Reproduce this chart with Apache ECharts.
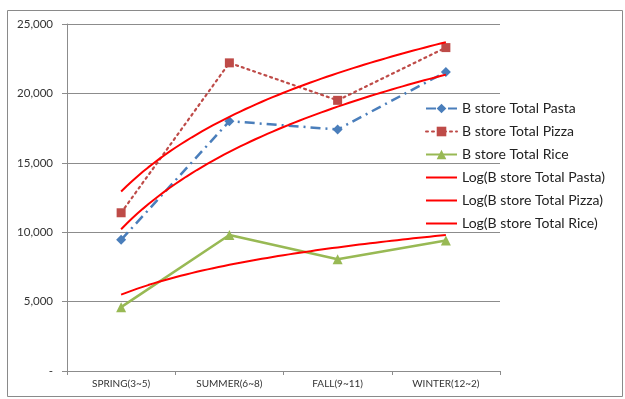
<!DOCTYPE html>
<html>
<head>
<meta charset="utf-8">
<script src="https://cdn.jsdelivr.net/npm/echarts@6/dist/echarts.min.js"></script>
<style>
  html, body { margin: 0; padding: 0; background: #fff; }
  #chart { width: 625px; height: 399px; }
</style>
</head>
<body>
<div id="chart"></div>
<script>
// Seasonal sales, B store
const seasons = ['SPRING(3~5)', 'SUMMER(6~8)', 'FALL(9~11)', 'WINTER(12~2)'];
const pasta = [9450, 18000, 17400, 21550];
const pizza = [11400, 22200, 19500, 23300];
const rice = [4600, 9800, 8050, 9400];
const yTicks = [0, 5000, 10000, 15000, 20000, 25000];

// Logarithmic least-squares fit y = a + b*ln(x), x = 1..n
function logFit(values) {
  const n = values.length;
  const lx = values.map((_, i) => Math.log(i + 1));
  const mx = lx.reduce((s, v) => s + v, 0) / n;
  const my = values.reduce((s, v) => s + v, 0) / n;
  let sxy = 0, sxx = 0;
  for (let i = 0; i < n; i++) {
    sxy += (lx[i] - mx) * (values[i] - my);
    sxx += (lx[i] - mx) * (lx[i] - mx);
  }
  const b = sxy / sxx;
  const a = my - b * mx;
  const pts = [];
  for (let x = 1; x <= n + 1e-9; x += 0.05) {
    pts.push([x, a + b * Math.log(x)]);
  }
  return pts;
}

const font = 'Lato, "Liberation Sans", sans-serif';
const gridColor = '#8c8c8c';

const chart = echarts.init(document.getElementById('chart'));
chart.setOption({
  animation: false,
  backgroundColor: '#fff',
  grid: { left: 67, right: 125, top: 24, bottom: 28 },
  graphic: [{
    type: 'rect',
    shape: { x: 7.5, y: 10.5, width: 615, height: 386 },
    style: { fill: 'none', stroke: '#8a8a8a', lineWidth: 1 },
    silent: true,
    z: -1
  }],
  legend: {
    orient: 'vertical',
    left: 420,
    top: 95,
    itemWidth: 31,
    itemHeight: 12,
    itemGap: 6,
    textStyle: { fontFamily: font, fontSize: 14, lineHeight: 17, color: '#222' },
    data: [
      'B store Total Pasta', 'B store Total Pizza', 'B store Total Rice',
      { name: 'Log(B store Total Pasta)', itemStyle: { opacity: 0 } },
      { name: 'Log(B store Total Pizza)', itemStyle: { opacity: 0 } },
      { name: 'Log(B store Total Rice)', itemStyle: { opacity: 0 } }
    ]
  },
  xAxis: [{
    type: 'category',
    data: seasons,
    boundaryGap: true,
    axisLine: { lineStyle: { color: gridColor } },
    axisTick: { show: true, length: 4, lineStyle: { color: gridColor } },
    axisLabel: { fontFamily: font, fontSize: 10, color: '#333', margin: 8 }
  }, {
    type: 'value',
    min: 0.5,
    max: 4.5,
    show: false
  }],
  yAxis: {
    type: 'value',
    min: 0,
    max: 25000,
    interval: 5000,
    axisLine: { show: true, lineStyle: { color: gridColor } },
    axisTick: { show: true, length: 5, lineStyle: { color: gridColor } },
    splitLine: { lineStyle: { color: gridColor, width: 1 } },
    axisLabel: {
      fontFamily: font, fontSize: 11.5, color: '#333', margin: 14,
      formatter: v => v === 0 ? '-' : v.toLocaleString('en-US')
    }
  },
  series: [
    {
      name: 'B store Total Pasta',
      type: 'line',
      data: pasta,
      symbol: 'diamond',
      symbolSize: 10,
      color: '#4a7ebb',
      lineStyle: { width: 2.5, type: [10, 5, 2, 5], color: '#4a7ebb' },
      itemStyle: { color: '#4a7ebb' },
      z: 3
    },
    {
      name: 'B store Total Pizza',
      type: 'line',
      data: pizza,
      symbol: 'rect',
      symbolSize: 9,
      color: '#be4b48',
      lineStyle: { width: 2.2, type: [2, 4], cap: 'round', color: '#be4b48' },
      itemStyle: { color: '#be4b48' },
      z: 3
    },
    {
      name: 'B store Total Rice',
      type: 'line',
      data: rice,
      symbol: 'triangle',
      symbolSize: 10,
      color: '#98b954',
      lineStyle: { width: 2.5, color: '#98b954' },
      itemStyle: { color: '#98b954' },
      z: 3
    },
    {
      name: 'Log(B store Total Pasta)',
      type: 'line',
      xAxisIndex: 1,
      data: logFit(pasta),
      symbol: 'none',
      color: '#ff0000',
      lineStyle: { width: 2, color: '#ff0000' },
      z: 4
    },
    {
      name: 'Log(B store Total Pizza)',
      type: 'line',
      xAxisIndex: 1,
      data: logFit(pizza),
      symbol: 'none',
      color: '#ff0000',
      lineStyle: { width: 2, color: '#ff0000' },
      z: 4
    },
    {
      name: 'Log(B store Total Rice)',
      type: 'line',
      xAxisIndex: 1,
      data: logFit(rice),
      symbol: 'none',
      color: '#ff0000',
      lineStyle: { width: 2, color: '#ff0000' },
      z: 4
    }
  ]
});
</script>
</body>
</html>
